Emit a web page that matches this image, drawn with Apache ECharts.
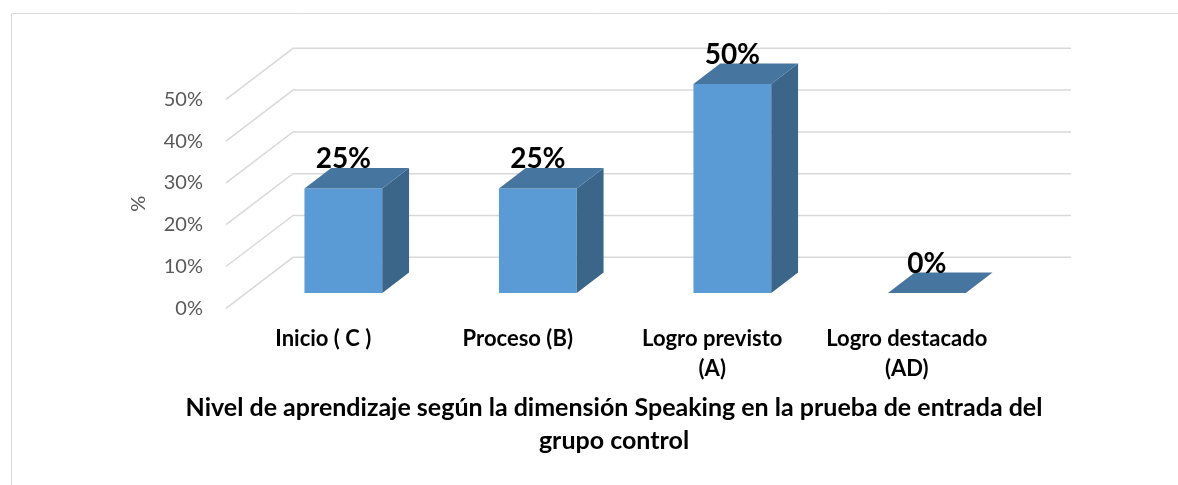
<!DOCTYPE html>
<html>
<head>
<meta charset="utf-8">
<script src="https://cdn.jsdelivr.net/npm/echarts@6/dist/echarts.min.js"></script>
<style>
  html, body { margin: 0; padding: 0; background: #fff; }
  #main { width: 1178px; height: 485px; }
</style>
</head>
<body>
<div id="main"></div>
<script>
const categories = ["Inicio ( C )", "Proceso (B)", "Logro previsto\n(A)", "Logro destacado\n(AD)"];
const values = [25, 25, 50, 0];
const ticks = [0, 10, 20, 30, 40, 50];
const title = "Nivel de aprendizaje según la dimensión Speaking en la prueba de entrada del\ngrupo control";

// depth of the floor (3D projection), in px
const DX = 67, DY = -51;
const FONT = "Lato, 'Open Sans', sans-serif";

const chart = echarts.init(document.getElementById("main"));

function wallItem(params, api) {
  const cs = params.coordSys;
  const y = api.coord([0, api.value(1)])[1];
  return {
    type: "polyline",
    silent: true,
    shape: { points: [[cs.x, y], [cs.x + DX, y + DY], [cs.x + cs.width + DX, y + DY]] },
    style: { stroke: "#d9d9d9", lineWidth: 1.5, fill: null }
  };
}

function barItem(params, api) {
  const i = api.value(0), v = api.value(1);
  const base = api.coord([i, 0]);
  const top = api.coord([i, v]);
  const w = api.size([1, 0])[0] * 0.4;
  const x0 = base[0] - w / 2 + 0.3 * DX;
  const yb = base[1] + 0.3 * DY;
  const yt = top[1] + 0.3 * DY;
  const dx = 0.4 * DX, dy = 0.4 * DY;
  const children = [];
  if (yb - yt > 0.5) {
    children.push({
      type: "rect",
      shape: { x: x0, y: yt, width: w, height: yb - yt },
      style: { fill: "#5b9bd5" }
    });
    children.push({
      type: "polygon",
      shape: { points: [[x0 + w, yt], [x0 + w + dx, yt + dy], [x0 + w + dx, yb + dy], [x0 + w, yb]] },
      style: { fill: "#3b6589" }
    });
  }
  children.push({
    type: "polygon",
    shape: { points: [[x0, yt], [x0 + dx, yt + dy], [x0 + w + dx, yt + dy], [x0 + w, yt]] },
    style: { fill: "#4675a0" }
  });
  children.push({
    type: "text",
    style: {
      text: v + "%",
      x: x0 + w / 2,
      y: yt + dy + 5,
      align: "center",
      verticalAlign: "bottom",
      font: "bold 28px " + FONT,
      fill: "#000"
    }
  });
  return { type: "group", children: children };
}

const option = {
  backgroundColor: "#fff",
  animation: false,
  title: {
    text: title,
    left: 609,
    top: 386,
    textAlign: "center",
    textStyle: { fontFamily: FONT, fontWeight: "bold", fontSize: 25, lineHeight: 33, color: "#000" }
  },
  graphic: [{
    type: "rect",
    silent: true,
    shape: { x: 11.5, y: 13.5, width: 1200, height: 500 },
    style: { fill: null, stroke: "#d9d9d9", lineWidth: 1 }
  }],
  grid: { left: 226, right: 174, top: 99.3, bottom: 176.7 },
  xAxis: {
    type: "category",
    data: categories,
    axisLine: { show: false },
    axisTick: { show: false },
    axisLabel: {
      margin: 16,
      fontFamily: FONT,
      fontWeight: "bold",
      fontSize: 22,
      lineHeight: 30,
      color: "#000",
      interval: 0
    }
  },
  yAxis: {
    type: "value",
    min: 0,
    max: 50,
    interval: 10,
    name: "%",
    nameLocation: "middle",
    nameGap: 77,
    nameRotate: 90,
    nameTextStyle: { fontFamily: FONT, fontSize: 20, color: "#595959" },
    axisLine: { show: false },
    axisTick: { show: false },
    splitLine: { show: false },
    axisLabel: { margin: 23, fontFamily: FONT, fontSize: 20, color: "#595959", formatter: "{value}%" }
  },
  series: [
    {
      type: "custom",
      name: "wall",
      silent: true,
      renderItem: wallItem,
      data: ticks.map(t => [0, t]),
      encode: { x: 0, y: 1 },
      z: 1
    },
    {
      type: "custom",
      name: "Nivel",
      renderItem: barItem,
      data: values.map((v, i) => [i, v]),
      encode: { x: 0, y: 1 },
      z: 2
    }
  ]
};
chart.setOption(option);
</script>
</body>
</html>
